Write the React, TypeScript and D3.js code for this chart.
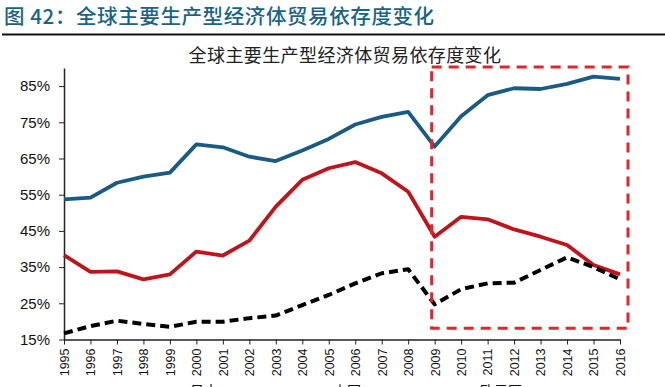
import { useEffect, useRef } from "react";
import * as d3 from "d3";

const years = [
  1995, 1996, 1997, 1998, 1999, 2000, 2001, 2002, 2003, 2004, 2005,
  2006, 2007, 2008, 2009, 2010, 2011, 2012, 2013, 2014, 2015, 2016,
];

// trade dependence, %
const japan = [
  16.7, 18.7, 20.2, 19.3, 18.5, 19.9, 19.9, 20.9, 21.6, 24.5, 27.3,
  30.5, 33.3, 34.4, 24.7, 28.9, 30.5, 30.7, 34.2, 37.7, 35.0, 31.6,
];
const china = [
  38.3, 33.7, 33.8, 31.6, 33.0, 39.3, 38.2, 42.3, 51.7, 59.1, 62.3,
  64.0, 60.9, 55.8, 43.4, 48.9, 48.2, 45.4, 43.4, 41.1, 35.6, 33.0,
];
const euro = [
  53.7, 54.2, 58.3, 60.0, 61.1, 68.9, 68.1, 65.5, 64.3, 67.2, 70.4,
  74.4, 76.5, 77.9, 68.3, 76.7, 82.5, 84.4, 84.2, 85.6, 87.6, 87.0,
];

const yTicks = [15, 25, 35, 45, 55, 65, 75, 85];
const highlightYears = [2009, 2016];

const seriesNames = ["日本", "中国", "欧元区"];

const W = 665;
const H = 387;
const FONT = "Arial, 'Liberation Sans', 'Noto Sans CJK SC', sans-serif";
const CJK = "'Noto Sans CJK SC', sans-serif";

export default function App() {
  const svgRef = useRef<SVGSVGElement | null>(null);

  useEffect(() => {
    if (!svgRef.current) return;
    const svg = d3.select(svgRef.current);
    svg.selectAll("*").remove();

    // header
    svg
      .append("text")
      .attr("x", 4)
      .attr("y", 24)
      .attr("font-family", CJK)
      .attr("font-size", 20.5)
      .attr("font-weight", 500)
      .attr("letter-spacing", 0.6)
      .attr("fill", "#1b6384")
      .text("图 42：全球主要生产型经济体贸易依存度变化");
    svg
      .append("line")
      .attr("x1", 2)
      .attr("x2", W)
      .attr("y1", 34.5)
      .attr("y2", 34.5)
      .attr("stroke", "#111")
      .attr("stroke-width", 2);

    svg
      .append("text")
      .attr("x", 345)
      .attr("y", 62)
      .attr("text-anchor", "middle")
      .attr("font-family", CJK)
      .attr("font-size", 18)
      .attr("letter-spacing", 0.4)
      .attr("fill", "#222")
      .text("全球主要生产型经济体贸易依存度变化");

    const x = d3.scaleLinear().domain([1995, 2016]).range([64, 620]);
    const y = d3.scaleLinear().domain([15, 90]).range([339.5, 68]);

    // axes
    const yAxis = svg
      .append("g")
      .attr("transform", `translate(${x(1995)},0)`)
      .call(
        d3
          .axisLeft(y)
          .tickValues(yTicks)
          .tickSize(5)
          .tickSizeOuter(0)
          .tickFormat((v) => `${v}%`)
      );
    yAxis.select(".domain").attr("stroke", "#222").attr("stroke-width", 1.5);
    yAxis.selectAll("line").attr("stroke", "#222");
    yAxis
      .selectAll("text")
      .attr("font-family", FONT)
      .attr("font-size", 15)
      .attr("fill", "#111")
      .attr("x", -14);

    const xAxis = svg
      .append("g")
      .attr("transform", `translate(0,${y(15)})`)
      .call(
        d3
          .axisBottom(x)
          .tickValues(years)
          .tickSize(5)
          .tickSizeOuter(0)
          .tickFormat((v) => String(v))
      );
    xAxis.select(".domain").attr("stroke", "#222").attr("stroke-width", 1.5);
    xAxis.selectAll("line").attr("stroke", "#222");
    xAxis
      .selectAll("text")
      .attr("font-family", FONT)
      .attr("font-size", 12.5)
      .attr("fill", "#111")
      .attr("transform", "rotate(-90)")
      .attr("text-anchor", "end")
      .attr("dy", "0.35em")
      .attr("x", -9)
      .attr("y", 0);

    // lines
    const line = d3
      .line<number>()
      .x((_, i) => x(years[i]))
      .y((d) => y(d));

    svg
      .append("path")
      .attr("d", line(euro))
      .attr("fill", "none")
      .attr("stroke", "#1a5b85")
      .attr("stroke-width", 3.8)
      .attr("stroke-linejoin", "round");
    svg
      .append("path")
      .attr("d", line(china))
      .attr("fill", "none")
      .attr("stroke", "#c0141c")
      .attr("stroke-width", 3.8)
      .attr("stroke-linejoin", "round");
    svg
      .append("path")
      .attr("d", line(japan))
      .attr("fill", "none")
      .attr("stroke", "#000")
      .attr("stroke-width", 4)
      .attr("stroke-dasharray", "9,5")
      .attr("stroke-linejoin", "round");

    // highlight box
    const bx0 = x(highlightYears[0]) - 3;
    const bx1 = x(highlightYears[1]) + 8;
    svg
      .append("rect")
      .attr("x", bx0)
      .attr("y", y(90.3))
      .attr("width", bx1 - bx0)
      .attr("height", y(18.1) - y(90.3))
      .attr("fill", "none")
      .attr("stroke", "#e3242b")
      .attr("stroke-width", 3)
      .attr("stroke-dasharray", "10,7");

    // legend (mostly below the visible area, as in the source)
    const legend = [
      { name: seriesNames[0], color: "#000", dash: "9,5", x0: 130, x1: 174, tx: 190 },
      { name: seriesNames[1], color: "#c0141c", dash: null, x0: 280, x1: 325, tx: 333 },
      { name: seriesNames[2], color: "#1a5b85", dash: null, x0: 423, x1: 473, tx: 480 },
    ];
    legend.forEach((l) => {
      svg
        .append("line")
        .attr("x1", l.x0)
        .attr("x2", l.x1)
        .attr("y1", 391)
        .attr("y2", 391)
        .attr("stroke", l.color)
        .attr("stroke-width", 3.5)
        .attr("stroke-dasharray", l.dash);
      svg
        .append("text")
        .attr("x", l.tx)
        .attr("y", 396)
        .attr("font-family", CJK)
        .attr("font-size", 14)
        .attr("fill", "#111")
        .text(l.name);
    });
  }, []);

  return (
    <svg
      ref={svgRef}
      width={W}
      height={H}
      style={{ position: "absolute", left: 0, top: 0, background: "#fff" }}
    />
  );
}
